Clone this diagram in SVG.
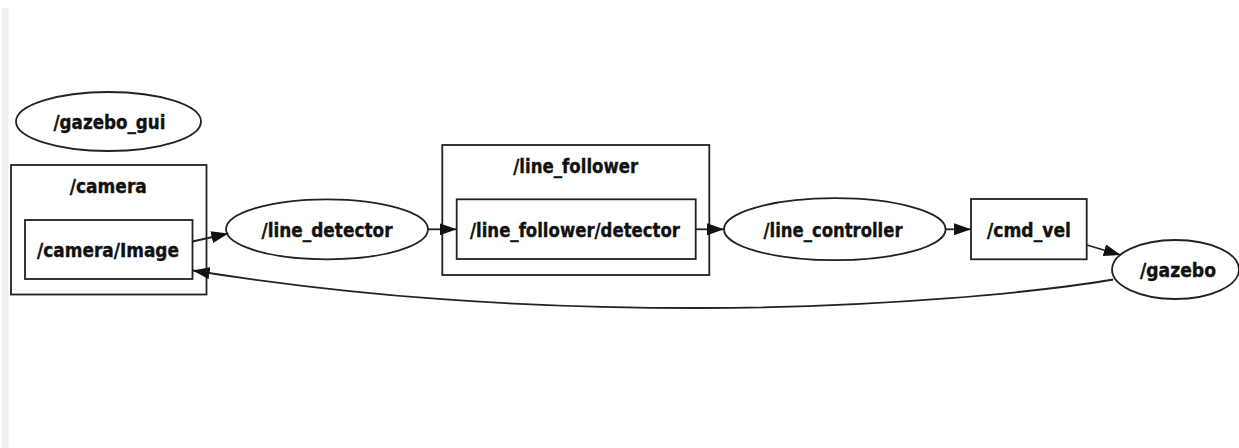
<svg xmlns="http://www.w3.org/2000/svg" width="1239" height="448" viewBox="0 0 1239 448">
  <style>
    .shape { fill: none; stroke: #222; stroke-width: 1.8; }
    .edge { fill: none; stroke: #222; stroke-width: 1.8; }
    .label { font-family: "DejaVu Sans Condensed", "DejaVu Sans", sans-serif; font-weight: bold; font-size: 19px; fill: #111; stroke: #111; stroke-width: 0.35; text-anchor: middle; }
  </style>
  <defs>
    <marker id="arrow" viewBox="0 0 17 12" refX="17" refY="6" markerWidth="17" markerHeight="12" markerUnits="userSpaceOnUse" orient="auto">
      <path d="M0,0 L17,6 L0,12 Z" fill="#111"/>
    </marker>
  </defs>

  <rect width="1239" height="448" fill="#ffffff"/>
  <rect x="2" y="8" width="6.5" height="440" fill="#f0f0f0"/>

  <!-- nodes -->
  <g id="gazebo_gui">
    <ellipse class="shape" cx="108.5" cy="121.5" rx="92.5" ry="29.5"/>
    <text class="label" x="109.5" y="128.5" textLength="112" lengthAdjust="spacingAndGlyphs">/gazebo_gui</text>
  </g>

  <g id="camera">
    <rect class="shape" x="11" y="165" width="195.5" height="129.5"/>
    <text class="label" x="108.3" y="193" textLength="77" lengthAdjust="spacingAndGlyphs">/camera</text>
  </g>

  <g id="camera_image">
    <rect class="shape" x="25" y="220" width="167.5" height="59"/>
    <text class="label" x="108" y="256.5" textLength="142" lengthAdjust="spacingAndGlyphs">/camera/Image</text>
  </g>

  <g id="line_detector">
    <ellipse class="shape" cx="327" cy="229.3" rx="101" ry="30"/>
    <text class="label" x="327" y="236.5" textLength="131" lengthAdjust="spacingAndGlyphs">/line_detector</text>
  </g>

  <g id="line_follower">
    <rect class="shape" x="442.3" y="145" width="267" height="130"/>
    <text class="label" x="575.8" y="173" textLength="125" lengthAdjust="spacingAndGlyphs">/line_follower</text>
  </g>

  <g id="line_follower_detector">
    <rect class="shape" x="456.7" y="199.3" width="239" height="59.7"/>
    <text class="label" x="575" y="236.5" textLength="210" lengthAdjust="spacingAndGlyphs">/line_follower/detector</text>
  </g>

  <g id="line_controller">
    <ellipse class="shape" cx="834.8" cy="229.2" rx="110.8" ry="31"/>
    <text class="label" x="833" y="236.5" textLength="139" lengthAdjust="spacingAndGlyphs">/line_controller</text>
  </g>

  <g id="cmd_vel">
    <rect class="shape" x="971" y="199" width="115.7" height="60.3"/>
    <text class="label" x="1029" y="236.5" textLength="84" lengthAdjust="spacingAndGlyphs">/cmd_vel</text>
  </g>

  <g id="gazebo">
    <ellipse class="shape" cx="1175.5" cy="269.5" rx="63.5" ry="29.5"/>
    <text class="label" x="1178" y="276.5" textLength="76" lengthAdjust="spacingAndGlyphs">/gazebo</text>
  </g>

  <!-- connectors -->
  <g id="edges">
    <path class="edge" d="M192.5,241.5 L228.3,233.5" marker-end="url(#arrow)"/>
    <path class="edge" d="M428,229.3 L456.7,229.3" marker-end="url(#arrow)"/>
    <path class="edge" d="M695.7,229.3 L724,229.3" marker-end="url(#arrow)"/>
    <path class="edge" d="M945.6,229.3 L971,229.3" marker-end="url(#arrow)"/>
    <path class="edge" d="M1086.7,245 L1120.7,255" marker-end="url(#arrow)"/>
    <path class="edge" d="M1113.3,279.5 C1040,292 880,308 700,308 C520,308 360,297 192.7,270.5" marker-end="url(#arrow)"/>
  </g>
</svg>
